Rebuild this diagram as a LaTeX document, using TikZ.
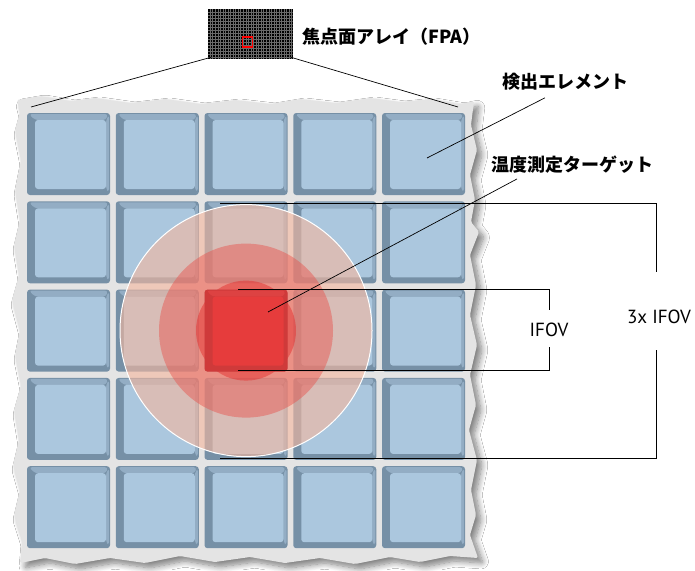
\documentclass[tikz,border=0pt]{standalone}
\usepackage{fontspec}
\newfontfamily\jp{Noto Sans CJK JP}
\newfontfamily\ptsans{PT Sans}
\usetikzlibrary{shadows.blur}
\definecolor{paper}{HTML}{E4E4E4}
\definecolor{celldark}{HTML}{7690A6}
\definecolor{celltop}{HTML}{93ADC4}
\definecolor{cellface}{HTML}{ABC7DE}
\definecolor{hotdark}{HTML}{CF3A3A}
\definecolor{hottop}{HTML}{DD4242}
\definecolor{hotface}{HTML}{E63C3C}
\definecolor{ringout}{HTML}{F5B8A0}
\definecolor{ringmid}{HTML}{E8504A}
\definecolor{ringin}{HTML}{E53030}
\definecolor{fpagrid}{HTML}{6A6A6A}
\tikzset{
  cellbase/.style={minimum width=83pt, minimum height=82pt, inner sep=0pt, rounded corners=3pt},
  cell/.style={cellbase, fill=celldark, path picture={
      \fill[celltop] ([xshift=2pt,yshift=-1pt]path picture bounding box.north west) -- ([xshift=-2pt,yshift=-1pt]path picture bounding box.north east) -- ([xshift=-4pt,yshift=-7pt]path picture bounding box.north east) -- ([xshift=8pt,yshift=-7pt]path picture bounding box.north west) -- cycle;
      \fill[celltop] ([xshift=-1pt,yshift=-2pt]path picture bounding box.north east) -- ([xshift=-4pt,yshift=-7pt]path picture bounding box.north east) -- ([xshift=-4pt,yshift=6pt]path picture bounding box.south east) -- ([xshift=-1pt,yshift=3pt]path picture bounding box.south east) -- cycle;
      \fill[cellface] ([xshift=8pt,yshift=-7pt]path picture bounding box.north west) rectangle ([xshift=-4pt,yshift=6pt]path picture bounding box.south east);
  }},
  hotcell/.style={cellbase, fill=hotdark, path picture={
      \fill[hottop] ([xshift=2pt,yshift=-1pt]path picture bounding box.north west) -- ([xshift=-2pt,yshift=-1pt]path picture bounding box.north east) -- ([xshift=-4pt,yshift=-7pt]path picture bounding box.north east) -- ([xshift=8pt,yshift=-7pt]path picture bounding box.north west) -- cycle;
      \fill[hotface] ([xshift=8pt,yshift=-7pt]path picture bounding box.north west) rectangle ([xshift=-4pt,yshift=6pt]path picture bounding box.south east);
  }},
  ring/.style={circle, inner sep=0pt},
  leader/.style={draw=black, line width=0.7pt},
  jplabel/.style={inner sep=1pt, font=\jp\bfseries\fontsize{18}{20}\selectfont},
  enlabel/.style={inner sep=1pt, font=\ptsans\fontsize{19}{22}\selectfont},
}
\begin{document}
\begin{tikzpicture}[x=1pt,y=-1pt]
\useasboundingbox (0,0) rectangle (695,570);
\fill[white] (0,0) rectangle (695,570);

% torn paper
\path[fill=paper, rounded corners=1.5pt,
  blur shadow={shadow xshift=5pt, shadow yshift=-5pt, shadow blur radius=6pt, shadow blur steps=10, shadow opacity=50}]
  (17,100) -- (40,96) -- (70,101) -- (95,98) -- (130,103) -- (165,99) -- (200,104) -- (235,100) -- (270,104) -- (300,99) -- (335,103) -- (370,98) -- (400,102) -- (430,99) -- (460,104) -- (474,101)
  -- (471,125) -- (477,150) -- (470,175) -- (475,200) -- (471,222) -- (479,232) -- (470,255) -- (476,285) -- (470,315) -- (477,345) -- (470,375) -- (476,405) -- (469,430) -- (477,460) -- (471,490) -- (476,515) -- (470,535) -- (478,558)
  -- (450,556) -- (420,562) -- (390,557) -- (355,564) -- (320,558) -- (285,563) -- (250,557) -- (215,562) -- (180,556) -- (145,563) -- (110,558) -- (75,564) -- (45,558) -- (20,563)
  -- (22,540) -- (14,515) -- (20,490) -- (13,465) -- (19,440) -- (14,410) -- (21,385) -- (15,355) -- (20,330) -- (12,300) -- (19,275) -- (14,245) -- (20,220) -- (15,190) -- (21,160) -- (15,130) -- (20,112) -- cycle;

% detector cells
\foreach \i in {0,...,4}{
  \foreach \j in {0,...,4}{
    \pgfmathsetmacro\cx{68.5+88.75*\i}
    \pgfmathsetmacro\cy{154+88.3*\j}
    \node[cell] (c-\i-\j) at (\cx,\cy) {};
  }
}

% target rings
\node[ring, minimum size=252pt, fill=ringout, fill opacity=.62, draw=white, line width=1pt] (r3) at (c-2-2) {};
\node[ring, minimum size=174pt, fill=ringmid, fill opacity=.45] (r2) at (c-2-2) {};
\node[ring, minimum size=100pt, fill=ringin, fill opacity=.5] (r1) at (c-2-2) {};
\node[hotcell] (hot) at (c-2-2) {};

% FPA thumbnail
\node[minimum width=85pt, minimum height=50pt, inner sep=0pt, fill=black, path picture={
    \foreach \k in {1,...,33} \draw[fpagrid, line width=0.35pt] ([xshift=\k*2.55pt]path picture bounding box.north west) -- ([xshift=\k*2.55pt]path picture bounding box.south west);
    \foreach \k in {1,...,16} \draw[fpagrid, line width=0.35pt] ([yshift=-\k*3pt]path picture bounding box.north west) -- ([yshift=-\k*3pt]path picture bounding box.north east);
  }] (fpa) at (250,34) {};
\node[draw=red, line width=1.1pt, minimum width=10pt, minimum height=10pt, inner sep=0pt] (roi) at (247.5,42) {};
\coordinate (pl) at (31,107);
\coordinate (pr) at (458,107);
\draw[leader] ([xshift=4pt,yshift=2pt]fpa.south west) -- (pl);
\draw[leader] ([xshift=-2pt,yshift=2pt]fpa.south east) -- (pr);

% labels
\node[jplabel, anchor=west] (fpal) at (301,37) {焦点面アレイ（FPA）};
\node[jplabel, anchor=west] (detl) at (501,82) {検出エレメント};
\node[jplabel, anchor=west, fill=white] (tgtl) at (490,165) {温度測定ターゲット};
\node[enlabel] (ifov) at (549,330) {IFOV};
\node[enlabel] (ifov3) at (659,317) {3x IFOV};

% leaders
\coordinate (detp) at (427,158);
\coordinate (tgtp) at (268,312);
\draw[leader] (detp) -- ([xshift=44pt,yshift=-6pt]detl.south west);
\draw[leader] (tgtp) -- ([xshift=27pt,yshift=-4pt]tgtl.south west);

% IFOV bracket
\coordinate (i1t) at (238,289);
\coordinate (i1b) at (238,370);
\coordinate (i1gt) at (549,310);
\coordinate (i1gb) at (549,347);
\draw[leader] (i1t) -| (i1gt);
\draw[leader] (i1b) -| (i1gb);

% 3x IFOV bracket
\coordinate (i3t) at (220,203);
\coordinate (i3b) at (220,458);
\coordinate (i3gt) at (656,272);
\coordinate (i3gb) at (656,350);
\draw[leader] (i3t) -| (i3gt);
\draw[leader] (i3b) -| (i3gb);
\end{tikzpicture}
\end{document}
